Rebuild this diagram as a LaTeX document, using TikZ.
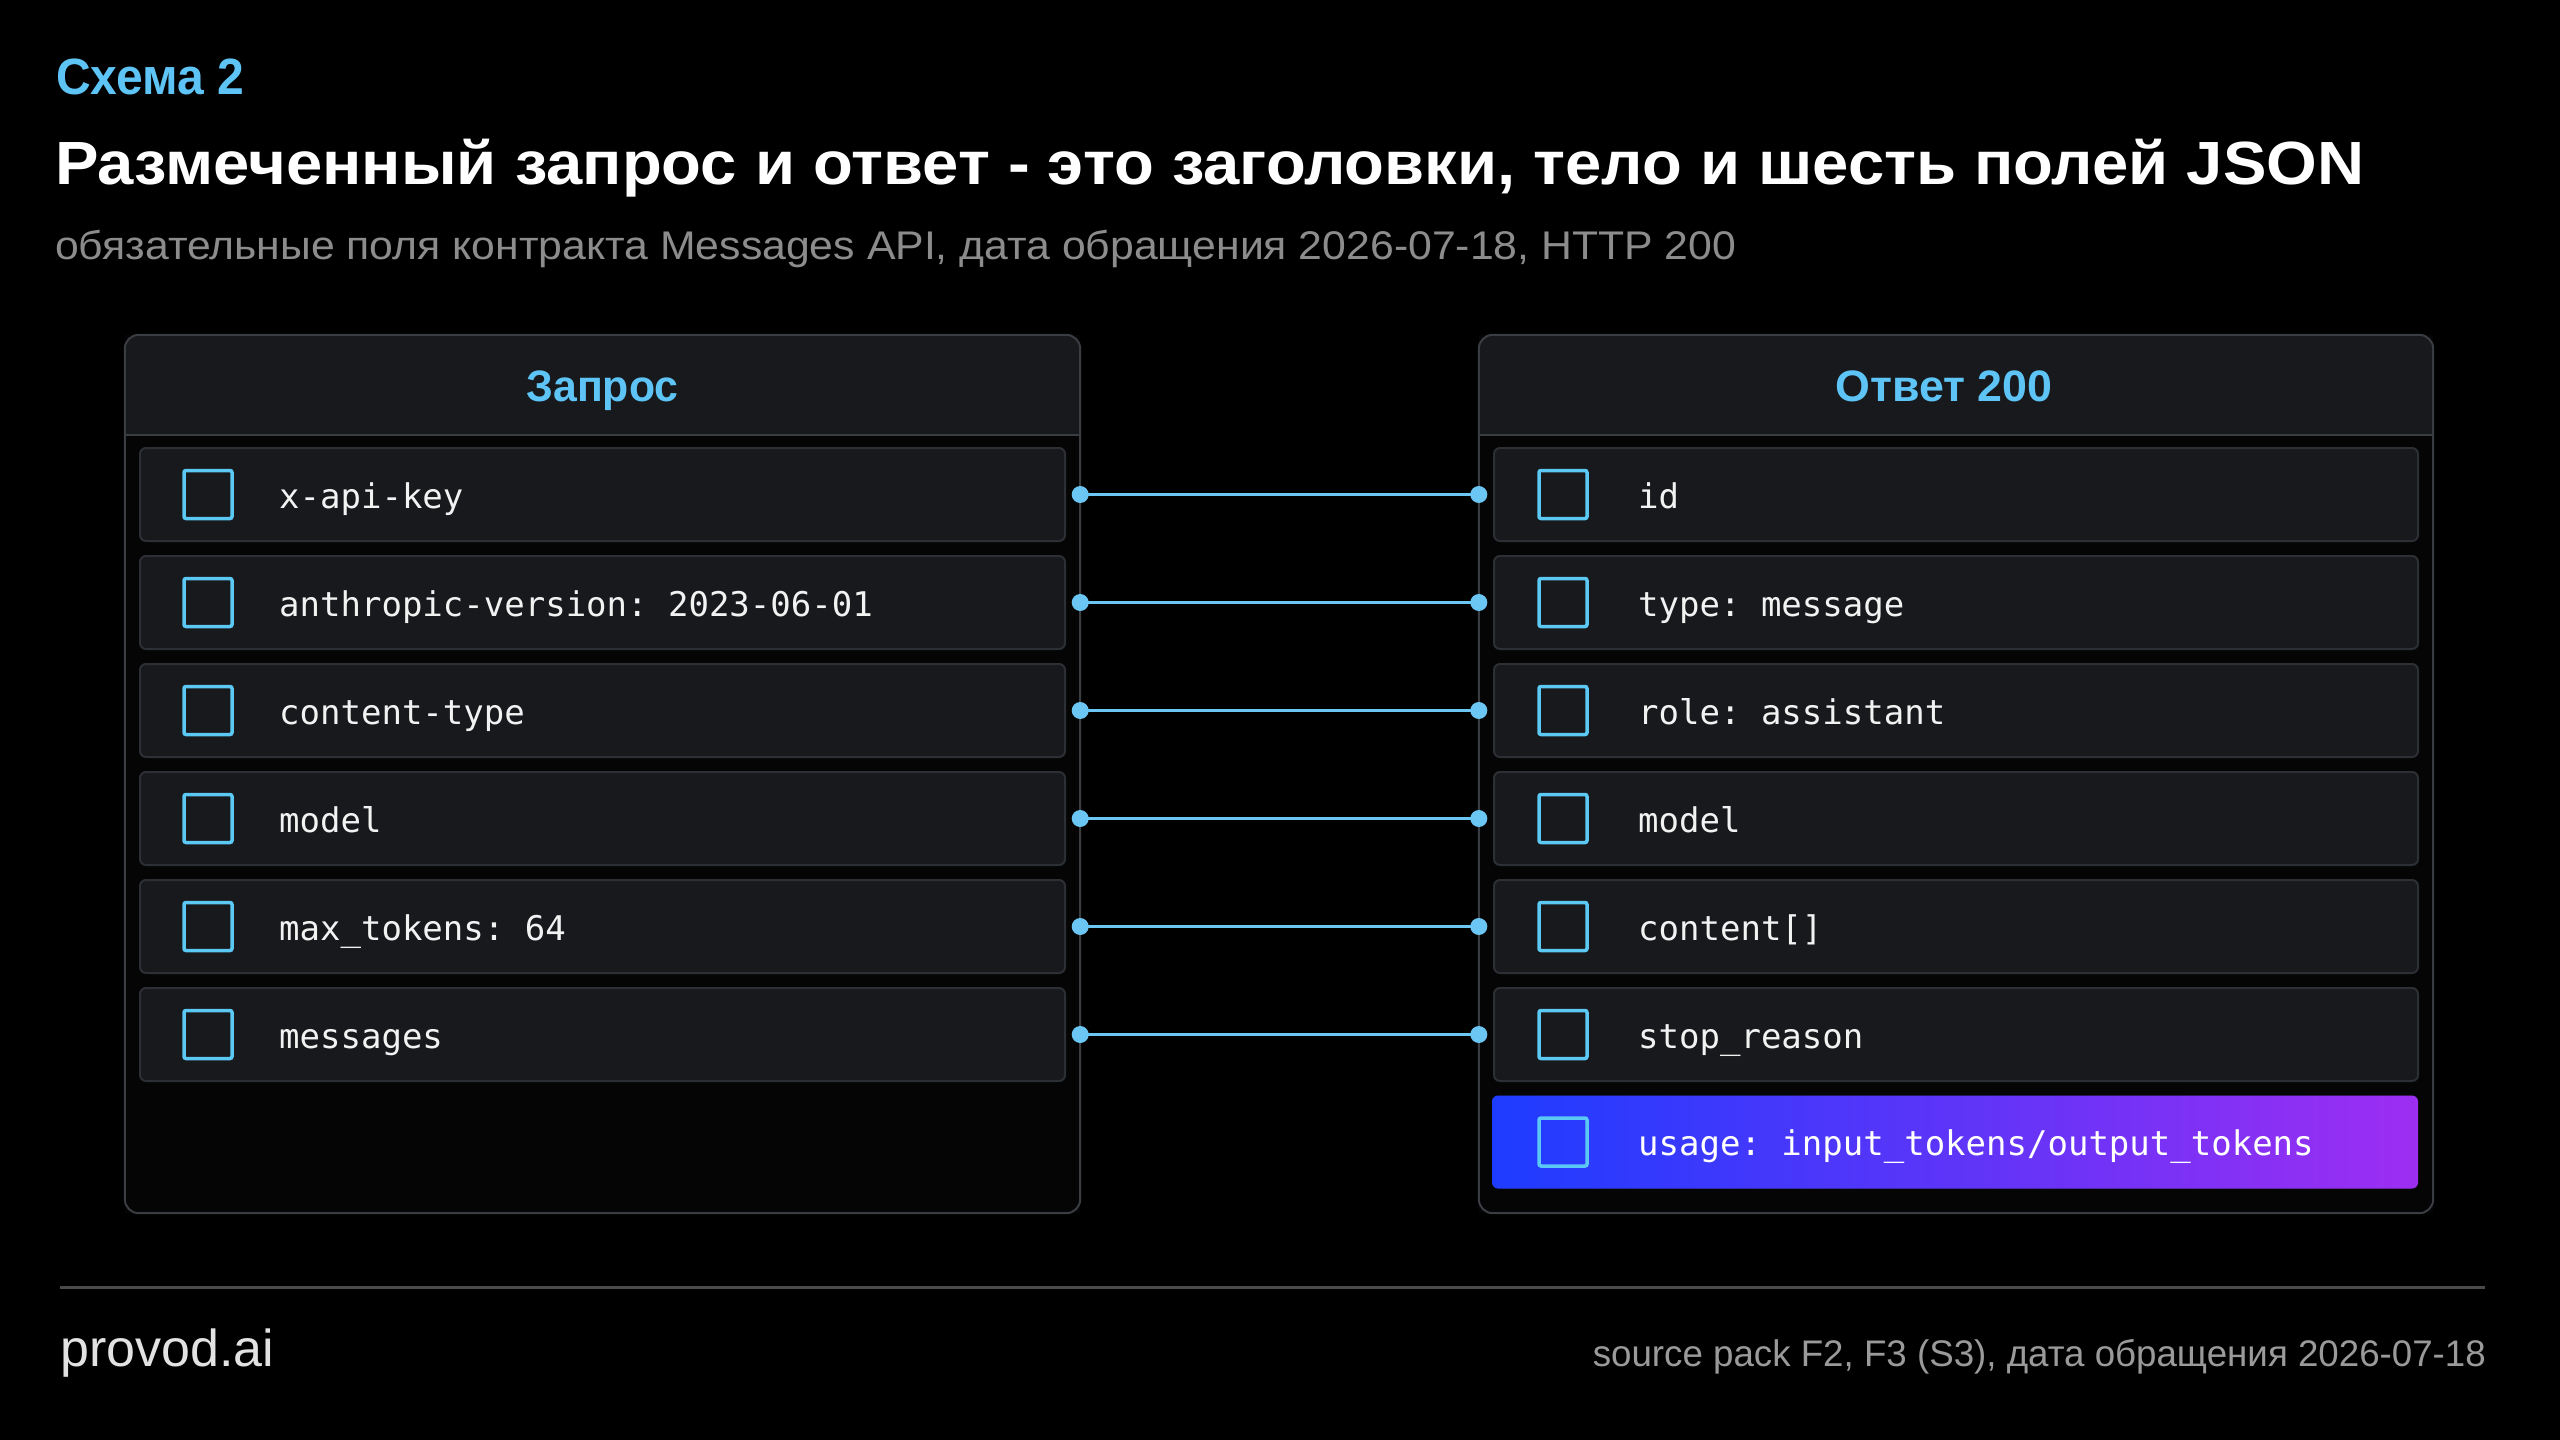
\documentclass[tikz,border=0pt]{standalone}
\usepackage{fontspec}
\setmainfont{Liberation Sans}
\setmonofont{DejaVu Sans Mono}
\usepackage{graphicx}
\definecolor{accent}{HTML}{5EC4F6}
\definecolor{panelfill}{HTML}{050506}
\definecolor{headfill}{HTML}{17191C}
\definecolor{panelline}{HTML}{3A3D42}
\definecolor{rowfill}{HTML}{17191C}
\definecolor{rowline}{HTML}{2C2F34}
\definecolor{boxline}{HTML}{5CC8F4}
\definecolor{connc}{HTML}{6CC6F4}
\definecolor{subgray}{HTML}{8C8C8C}
\definecolor{footgray}{HTML}{9A9A9A}
\definecolor{footline}{HTML}{4A4A4A}
\definecolor{logo}{HTML}{E2E2E2}
\definecolor{fieldc}{HTML}{F2F2F2}
\definecolor{gradL}{HTML}{1E3CFF}
\definecolor{gradR}{HTML}{9D2EF2}
\begin{document}
\begin{tikzpicture}[x=1pt,y=-1pt,
  panelbox/.style={fill=panelfill, inner sep=0pt, minimum height=878pt},
  rowbox/.style={draw=rowline, line width=2pt, fill=rowfill, rounded corners=6pt, minimum height=93pt, inner sep=0pt},
  lrow/.style={rowbox, minimum width=925pt},
  rrow/.style={rowbox, minimum width=924pt},
  chk/.style={draw=boxline, line width=3.5pt, rounded corners=2pt, minimum width=48pt, minimum height=48pt, inner sep=0pt},
  fieldtxt/.style={anchor=base west, inner sep=0pt, text=fieldc, font=\fontsize{34}{40}\selectfont\ttfamily},
  headtxt/.style={anchor=base, inner sep=0pt, text=accent, font=\fontsize{44}{50}\selectfont\bfseries},
  conn/.style={draw=connc, line width=3pt},
]
\useasboundingbox (0,0) rectangle (2560,1440);
\fill[black] (0,0) rectangle (2560,1440);

% titles
\node[anchor=base west, inner sep=0pt, text=accent, font=\fontsize{51}{56}\selectfont\bfseries] (kicker) at (56,94) {\resizebox{188pt}{\height}{Схема 2}};
\node[anchor=base west, inner sep=0pt, text=white, font=\fontsize{61}{68}\selectfont\bfseries] (title) at (55,184) {\resizebox{2309pt}{\height}{Размеченный запрос и ответ - это заголовки, тело и шесть полей JSON}};
\node[anchor=base west, inner sep=0pt, text=subgray, font=\fontsize{40}{46}\selectfont] (subtitle) at (55,259) {\resizebox{1681pt}{\height}{обязательные поля контракта Messages API, дата обращения 2026-07-18, HTTP 200}};

% panels
\node[panelbox, minimum width=955pt] (Lpanel) at (602.5,774) {};
\node[panelbox, minimum width=954pt] (Rpanel) at (1956,774) {};
\fill[headfill] (125,435) [rounded corners=14pt] -- (125,335) -- (1080,335) [sharp corners] -- (1080,435) -- cycle;
\fill[headfill] (1479,435) [rounded corners=14pt] -- (1479,335) -- (2433,335) [sharp corners] -- (2433,435) -- cycle;
\draw[panelline, line width=2pt, rounded corners=14pt] (Lpanel.north west) rectangle (Lpanel.south east);
\draw[panelline, line width=2pt, rounded corners=14pt] (Rpanel.north west) rectangle (Rpanel.south east);
\draw[panelline, line width=2pt] (125,435) -- (1080,435);
\draw[panelline, line width=2pt] (1479,435) -- (2433,435);
\node[headtxt] (Lhead) at (602.5,401) {\resizebox{152pt}{\height}{Запрос}};
\node[headtxt] (Rhead) at (1944,401) {\resizebox{217pt}{\height}{Ответ 200}};

% left rows
\foreach \i/\t in {1/{x-api-key}, 2/{anthropic-version: 2023-06-01}, 3/{content-type}, 4/{model}, 5/{max\_tokens: 64}, 6/{messages}} {
  \node[lrow] (L\i) at (602.5,{494.5+108*(\i-1)}) {};
  \node[chk] (Lc\i) at (208,{494.5+108*(\i-1)}) {};
  \node[fieldtxt] (Lt\i) at (279,{508+108*(\i-1)}) {\t};
}
% right rows
\foreach \i/\t in {1/{id}, 2/{type: message}, 3/{role: assistant}, 4/{model}, 5/{content[]}, 6/{stop\_reason}} {
  \node[rrow] (R\i) at (1956,{494.5+108*(\i-1)}) {};
  \node[chk] (Rc\i) at (1563,{494.5+108*(\i-1)}) {};
  \node[fieldtxt] (Rt\i) at (1638,{508+108*(\i-1)}) {\t};
}
\node[rowbox, draw=none, left color=gradL, right color=gradR, minimum width=926pt] (R7) at (1955,1142) {};
\node[chk] (Rc7) at (1563,1142) {};
\node[fieldtxt, text=white] (Rt7) at (1638,1155.5) {usage: input\_tokens/output\_tokens};

% connectors
\foreach \i in {1,...,6} {
  \coordinate (a\i) at (L\i.east -| Lpanel.east);
  \coordinate (b\i) at (R\i.west -| Rpanel.west);
  \draw[conn] (a\i) -- (b\i);
  \fill[connc] (a\i) circle (8.5);
  \fill[connc] (b\i) circle (8.5);
}

% footer
\coordinate (fl) at (60,1287);
\coordinate (fr) at (2485,1287);
\draw[footline, line width=3pt] (fl) -- (fr);
\node[anchor=base west, inner sep=0pt, text=logo, font=\fontsize{52}{60}\selectfont] (logo) at (60,1366) {provod.ai};
\node[anchor=base east, inner sep=0pt, text=footgray, font=\fontsize{37}{42}\selectfont] (source) at (2486,1366) {\resizebox{893pt}{\height}{source pack F2, F3 (S3), дата обращения 2026-07-18}};
\end{tikzpicture}
\end{document}
